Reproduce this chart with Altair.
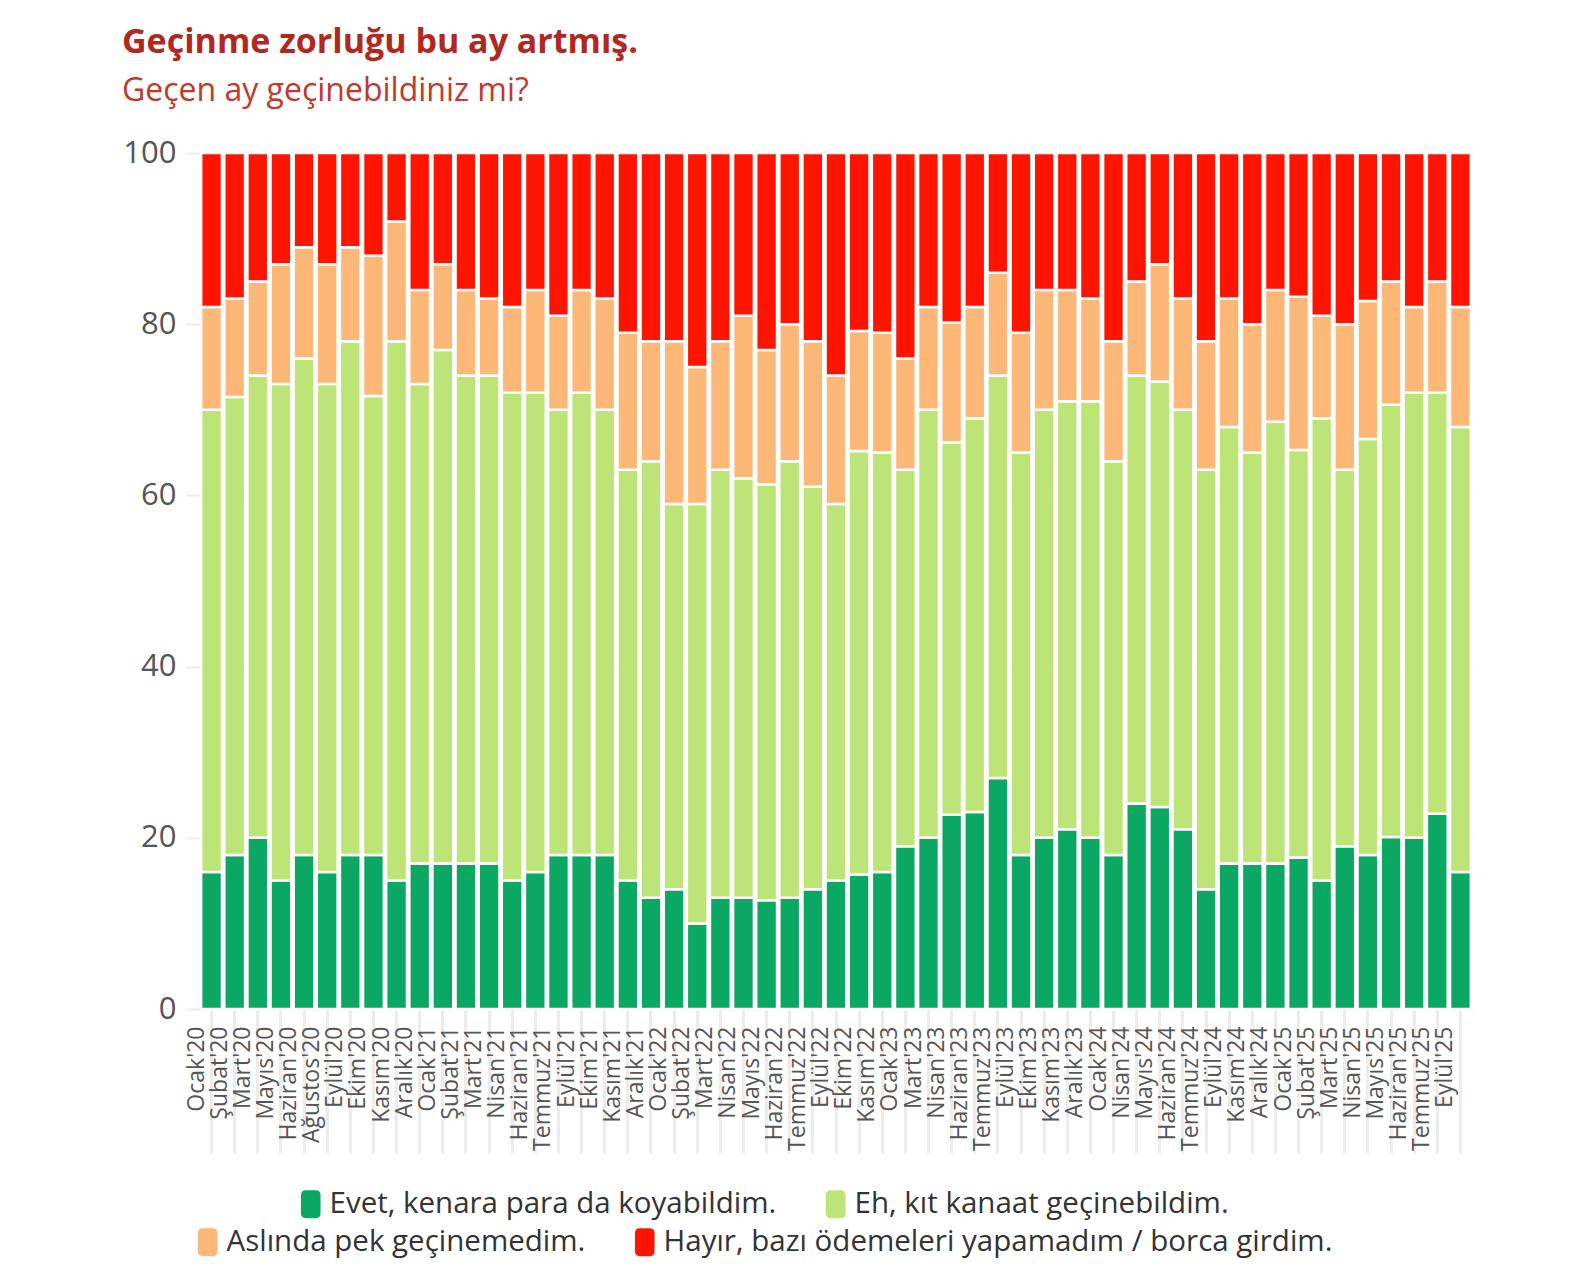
import altair as alt
import pandas as pd

FONT = "Open Sans"

months = ["Ocak'20", "Şubat'20", "Mart'20", "Mayıs'20", "Haziran'20", "Ağustos'20", "Eylül'20", "Ekim'20", "Kasım'20", "Aralık'20",
          "Ocak'21", "Şubat'21", "Mart'21", "Nisan'21", "Haziran'21", "Temmuz'21", "Eylül'21", "Ekim'21", "Kasım'21", "Aralık'21",
          "Ocak'22", "Şubat'22", "Mart'22", "Nisan'22", "Mayıs'22", "Haziran'22", "Temmuz'22", "Eylül'22", "Ekim'22", "Kasım'22",
          "Ocak'23", "Mart'23", "Nisan'23", "Haziran'23", "Temmuz'23", "Eylül'23", "Ekim'23", "Kasım'23", "Aralık'23",
          "Ocak'24", "Nisan'24", "Mayıs'24", "Haziran'24", "Temmuz'24", "Eylül'24", "Kasım'24", "Aralık'24",
          "Ocak'25", "Şubat'25", "Mart'25", "Nisan'25", "Mayıs'25", "Haziran'25", "Temmuz'25", "Eylül'25"]

series_names = ["Evet, kenara para da koyabildim.",
                "Eh, kıt kanaat geçinebildim.",
                "Aslında pek geçinemedim.",
                "Hayır, bazı ödemeleri yapamadım / borca girdim."]
series_colors = ["#0aa862", "#bde476", "#fdb878", "#ff1400"]

evet = [16, 18, 20, 15, 18, 16, 18, 18, 15, 17,
        17, 17, 17, 15, 16, 18, 18, 18, 15, 13,
        14, 10, 13, 13, 12.7, 13, 14, 15, 15.7, 16,
        19, 20, 22.7, 23, 27, 18, 20, 21, 20,
        18, 24, 23.6, 21, 14, 17, 17, 17,
        17.7, 15, 19, 18, 20.1, 20, 22.8, 16]

eh = [54, 53.5, 54, 58, 58, 57, 60, 53.6, 63, 56,
      60, 57, 57, 57, 56, 52, 54, 52, 48, 51,
      45, 49, 50, 49, 48.6, 51, 47, 44, 49.5, 49,
      44, 50, 43.5, 46, 47, 47, 50, 50, 51,
      46, 50, 49.7, 49, 49, 51, 48, 51.6,
      47.6, 54, 44, 48.6, 50.5, 52, 49.2, 52]

aslinda = [12, 11.5, 11, 14, 13, 14, 11, 16.4, 14, 11,
           10, 10, 9, 10, 12, 11, 12, 13, 16, 14,
           19, 16, 15, 19, 15.7, 16, 17, 15, 14, 14,
           13, 12, 14, 13, 12, 14, 14, 13, 12,
           14, 11, 13.7, 13, 15, 15, 15, 15.4,
           17.9, 12, 17, 16.1, 14.4, 10, 13, 14]

hayir = [18, 17, 15, 13, 11, 13, 11, 12, 8, 16,
         13, 16, 17, 18, 16, 19, 16, 17, 21, 22,
         22, 25, 22, 19, 23, 20, 22, 26, 20.8, 21,
         24, 18, 19.8, 18, 14, 21, 16, 16, 17,
         22, 15, 13, 17, 22, 17, 20, 16,
         16.8, 19, 20, 17.3, 15, 18, 15, 18]

rows = []
for i, m in enumerate(months):
    for k, arr in enumerate([evet, eh, aslinda, hayir]):
        rows.append({"month": m, "series": series_names[k], "order": k, "value": arr[i]})
df = pd.DataFrame(rows)

W, H = 1272, 856

SYMBOL = ("M-0.35,-1 L0.35,-1 Q0.7,-1 0.7,-0.65 L0.7,0.65 Q0.7,1 0.35,1 "
          "L-0.35,1 Q-0.7,1 -0.7,0.65 L-0.7,-0.65 Q-0.7,-1 -0.35,-1 Z")

x_enc = alt.X("month:N", sort=months, title=None,
              scale=alt.Scale(paddingInner=0.1, paddingOuter=0.05),
              axis=alt.Axis(labelAngle=-90, labelFontSize=23, labelColor="#555555", labelFont=FONT,
                            tickSize=144, tickColor="#ececec", tickWidth=3,
                            labelPadding=-127, labelOffset=-15, domain=False, grid=False,
                            labelOverlap=False))

y_enc = alt.Y("y0:Q", title=None, scale=alt.Scale(domain=[0, 100], nice=False),
              axis=alt.Axis(values=[0, 20, 40, 60, 80, 100], labelFontSize=31, labelColor="#555555",
                            labelFont=FONT, tickSize=14, tickColor="#ebebeb", tickWidth=2,
                            gridColor="#ebebeb", gridWidth=2, labelPadding=10, domain=False))


def legend(x, y):
    return alt.Legend(title=None, orient="none", legendX=x, legendY=y, direction="horizontal",
                      symbolType=SYMBOL, symbolSize=784, symbolStrokeWidth=0, symbolOpacity=1,
                      labelFontSize=29.5, labelFont=FONT, labelColor="#333333", labelLimit=1000,
                      labelOffset=4, columnPadding=44, padding=0)


base = alt.Chart(df).transform_stack(
    stack="value", groupby=["month"], sort=[alt.SortField("order", order="ascending")],
    as_=["y0", "y1"])

layer1 = base.transform_filter("datum.order < 2").mark_bar(stroke="white", strokeWidth=2.5).encode(
    x=x_enc, y=y_enc, y2="y1:Q",
    color=alt.Color("series:N", scale=alt.Scale(domain=series_names[:2], range=series_colors[:2]),
                    legend=legend(96, 1036)))

layer2 = base.transform_filter("datum.order >= 2").mark_bar(stroke="white", strokeWidth=2.5).encode(
    x=x_enc, y=y_enc, y2="y1:Q",
    color=alt.Color("series:N", scale=alt.Scale(domain=series_names[2:], range=series_colors[2:]),
                    legend=legend(-7, 1074)))

chart = alt.layer(layer1, layer2).resolve_scale(color="independent").properties(
    width=W, height=H,
    autosize=alt.AutoSizeParams(type="none"),
    padding={"left": 192, "top": 145, "right": 95, "bottom": 263},
    background="white",
    title=alt.TitleParams(text="Geçinme zorluğu bu ay artmış.", subtitle="Geçen ay geçinebildiniz mi?",
                          anchor="start", frame="group", dx=-78, font=FONT, fontSize=34,
                          fontWeight="bold", color="#b0281f", subtitleFont=FONT, subtitleFontSize=32,
                          subtitleColor="#c0392b", subtitlePadding=16, offset=30)
).configure_view(strokeWidth=0)

chart.save("out.html", embed_options={"renderer": "svg", "actions": False})
